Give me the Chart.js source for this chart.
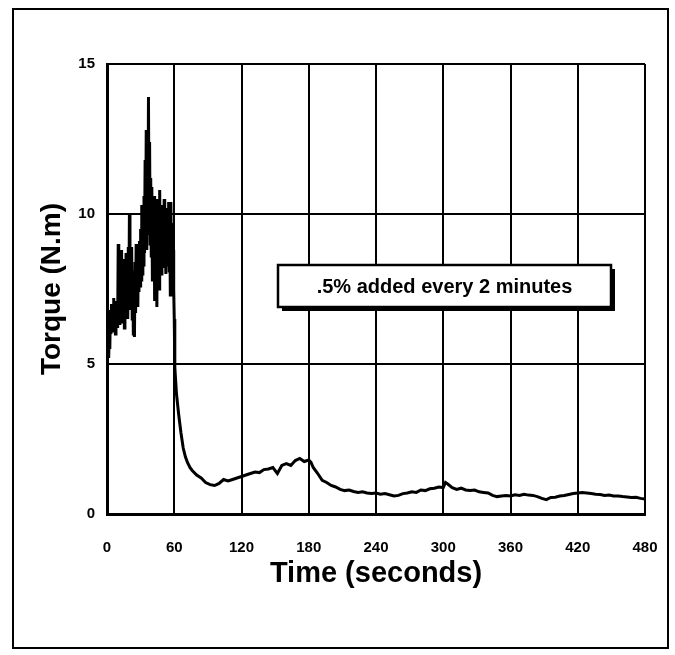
<!DOCTYPE html>
<html>
<head>
<meta charset="utf-8">
<script src="https://cdn.jsdelivr.net/npm/chart.js@4.4.0/dist/chart.umd.min.js"></script>
<style>
  html, body { margin: 0; padding: 0; background: #fff; }
  #wrap { width: 675px; height: 655px; position: relative; }
</style>
</head>
<body>
<div id="wrap"><canvas id="c" width="675" height="655"></canvas></div>
<script>
// ---- Data ----
const xTitle = "Time (seconds)";
const yTitle = "Torque (N.m)";
const noteText = ".5% added every 2 minutes";
const xTicks = [0, 60, 120, 180, 240, 300, 360, 420, 480];
const yTicks = [0, 5, 10, 15];

// dense, noisy start (0 - 60 s)
const timeStart = [
  0,0.5,1,1.5,2,2.5,3,3.5,4,4.5,5,5.5,6,6.5,7,7.5,8,8.5,9,9.5,
  10,10.5,11,11.5,12,12.5,13,13.5,14,14.5,15,15.5,16,16.5,17,17.5,18,18.5,19,19.5,
  20,20.5,21,21.5,22,22.5,23,23.5,24,24.5,25,25.5,26,26.5,27,27.5,28,28.5,29,29.5,
  30,30.5,31,31.5,32,32.5,33,33.5,34,34.5,35,35.5,36,36.5,37,37.5,38,38.5,39,39.5,
  40,40.5,41,41.5,42,42.5,43,43.5,44,44.5,45,45.5,46,46.5,47,47.5,48,48.5,49,49.5,
  50,50.5,51,51.5,52,52.5,53,53.5,54,54.5,55,55.5,56,56.5,57,57.5,58,58.5,59,59.5,60
];
const torqueStart = [
  6.5,5.6,6.8,5.2,6.1,5.5,6.7,6.0,7.0,6.2,6.9,6.1,7.2,6.3,6.8,6.0,7.1,6.4,7.0,6.2,
  9.0,6.5,8.2,6.3,8.6,7.0,8.8,6.4,8.0,6.8,8.5,6.2,7.9,6.6,8.7,7.1,8.3,6.5,8.9,7.0,
  10.0,6.8,8.4,7.2,8.9,6.5,8.1,6.0,7.8,5.9,8.4,6.7,9.0,7.1,8.6,6.9,8.8,7.4,9.1,7.6,
  9.5,7.8,10.3,8.0,9.8,8.3,10.6,8.7,11.8,9.0,12.8,8.8,11.5,9.3,13.9,9.6,12.4,9.0,11.2,8.6,
  10.9,7.8,10.2,8.4,10.6,7.1,9.8,8.6,10.4,6.9,10.5,8.1,9.7,7.5,10.8,8.3,9.9,8.0,10.3,8.6,
  10.1,8.2,10.5,8.7,9.6,8.0,10.2,8.9,9.8,8.3,10.4,8.1,9.9,7.3,10.4,7.6,9.7,7.4,8.8,7.5,6.5
];

// decay and tail (after 60 s)
const timeTail = [
  60.5,62,64,66,68,70,72,74,76,
  80,84,88,92,96,100,104,108,112,116,120,124,128,132,136,140,144,148,152,156,160,164,168,172,176,180,
  182,184,188,192,196,200,204,208,212,216,220,224,228,232,236,240,244,248,252,256,260,264,268,272,276,280,
  284,288,292,296,300,302,304,308,312,316,320,324,328,332,336,340,344,348,352,356,360,364,368,372,376,380,
  384,388,392,396,400,404,408,412,416,420,424,428,432,436,440,444,448,452,456,460,464,468,472,476,480
];
const torqueTail = [
  4.9,4.0,3.3,2.7,2.2,1.9,1.7,1.55,1.45,
  1.3,1.2,1.05,0.98,0.95,1.02,1.15,1.1,1.15,1.2,1.25,1.3,1.35,1.4,1.38,1.48,1.5,1.55,1.35,1.62,1.68,1.62,1.78,1.85,1.75,1.8,
  1.72,1.55,1.35,1.12,1.05,0.95,0.9,0.82,0.78,0.8,0.75,0.72,0.74,0.7,0.68,0.7,0.66,0.68,0.64,0.6,0.62,0.68,0.7,0.74,0.72,0.8,
  0.78,0.84,0.86,0.9,0.88,1.05,1.0,0.88,0.82,0.86,0.8,0.78,0.8,0.74,0.72,0.7,0.62,0.58,0.6,0.62,0.6,0.64,0.62,0.66,0.63,0.62,
  0.58,0.52,0.48,0.55,0.56,0.6,0.62,0.65,0.68,0.7,0.72,0.7,0.68,0.66,0.65,0.62,0.63,0.6,0.6,0.58,0.57,0.55,0.56,0.52,0.5
];

const times = timeStart.concat(timeTail);
const torque = torqueStart.concat(torqueTail);
const points = times.map((t, i) => ({ x: t, y: torque[i] }));

const FONT = "'Liberation Sans', Arial, sans-serif";

const decor = {
  id: 'decor',
  afterDraw(chart) {
    const ctx = chart.ctx;
    ctx.save();
    // outer frame
    ctx.strokeStyle = '#000';
    ctx.lineWidth = 2;
    ctx.strokeRect(13, 9, 655, 639);
    // note box with shadow
    const bx = 278, by = 265, bw = 333, bh = 42;
    ctx.fillStyle = '#000';
    ctx.fillRect(bx + 4, by + 4, bw, bh);
    ctx.fillStyle = '#fff';
    ctx.fillRect(bx, by, bw, bh);
    ctx.lineWidth = 2.5;
    ctx.strokeRect(bx, by, bw, bh);
    ctx.fillStyle = '#000';
    ctx.font = "bold 20px " + FONT;
    ctx.textAlign = 'center';
    ctx.textBaseline = 'middle';
    ctx.fillText(noteText, bx + bw / 2, by + bh / 2 + 1);
    ctx.restore();
  }
};

new Chart(document.getElementById('c'), {
  type: 'line',
  data: {
    datasets: [{
      data: points,
      borderColor: '#000',
      borderWidth: 3,
      pointRadius: 0,
      tension: 0,
      fill: false
    }]
  },
  options: {
    responsive: false,
    animation: false,
    events: [],
    layout: { padding: { left: 0, right: 30, top: 64, bottom: 0 } },
    plugins: { legend: { display: false }, tooltip: { enabled: false } },
    scales: {
      x: {
        type: 'linear',
        min: 0, max: 480,
        afterFit(s) { s.height = 141; s.paddingLeft = 0; s.paddingRight = 0; },
        afterBuildTicks(s) { s.ticks = xTicks.map(v => ({ value: v })); },
        grid: { color: '#000', lineWidth: 2, drawTicks: false },
        border: { color: '#000', width: 3 },
        ticks: { color: '#000', padding: 25, font: { family: FONT, size: 15, weight: 'bold' }, maxRotation: 0 },
        title: { display: true, text: xTitle, color: '#000', font: { family: FONT, size: 29, weight: 'bold' }, padding: { top: 0, bottom: 64 } }
      },
      y: {
        min: 0, max: 15,
        afterFit(s) { s.width = 107; s.paddingTop = 0; s.paddingBottom = 0; },
        afterBuildTicks(s) { s.ticks = yTicks.map(v => ({ value: v })); },
        grid: { color: '#000', lineWidth: 2, drawTicks: false },
        border: { color: '#000', width: 3 },
        ticks: { color: '#000', padding: 12, font: { family: FONT, size: 15, weight: 'bold' } },
        title: { display: true, text: yTitle, color: '#000', font: { family: FONT, size: 28, weight: 'bold' }, padding: { top: 35, bottom: 0 } }
      }
    }
  },
  plugins: [decor]
});
</script>
</body>
</html>
